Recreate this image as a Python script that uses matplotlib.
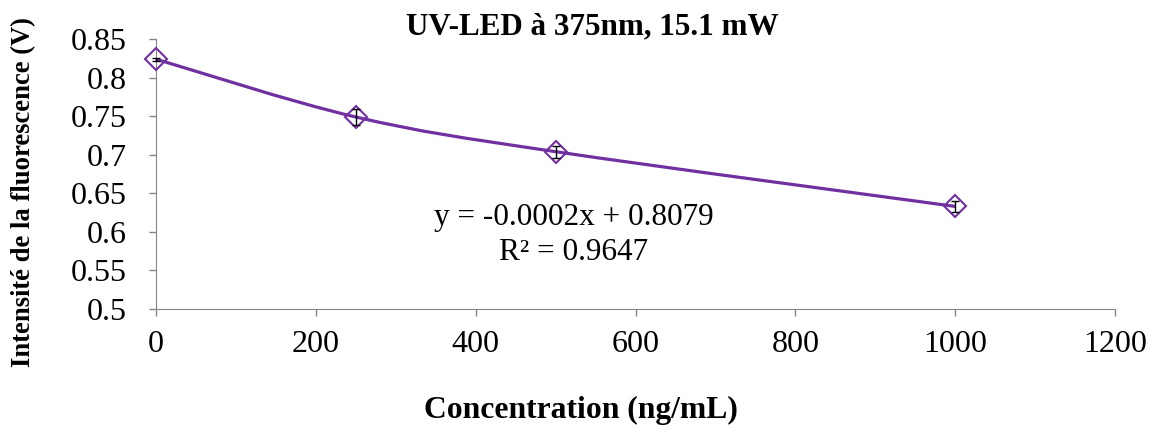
import numpy as np
import matplotlib
matplotlib.use("Agg")
import matplotlib.pyplot as plt
from matplotlib.path import Path
from matplotlib.patches import PathPatch

# data
conc = [0, 250, 500, 1000]
signal = [0.824, 0.749, 0.704, 0.633]
err = [0.002, 0.010, 0.008, 0.007]

purple = "#7030A0"
plt.rcParams["font.family"] = ["Liberation Serif", "DejaVu Serif"]

fig = plt.figure(figsize=(11.52, 4.25), dpi=100)
ax = fig.add_axes([0.1354, 0.273, 0.8326, 0.635])

# Excel-style smoothed line (Catmull-Rom -> cubic Bezier)
pts = np.column_stack([conc, signal]).astype(float)
ext = np.vstack([pts[0], pts, pts[-1]])
verts = [tuple(pts[0])]
codes = [Path.MOVETO]
for i in range(len(pts) - 1):
    p0, p1, p2, p3 = ext[i], ext[i + 1], ext[i + 2], ext[i + 3]
    c1 = p1 + (p2 - p0) / 6
    c2 = p2 - (p3 - p1) / 6
    verts += [tuple(c1), tuple(c2), tuple(p2)]
    codes += [Path.CURVE4] * 3
ax.add_patch(PathPatch(Path(verts, codes), fill=False, edgecolor=purple, lw=2.3,
                       zorder=2, clip_on=False))

ax.errorbar(conc, signal, yerr=err, fmt="none", ecolor="black", elinewidth=1,
            capsize=3, capthick=1, zorder=4, clip_on=False)
ax.plot(conc, signal, ls="none", marker="D", ms=11, mfc="none", mec=purple, mew=1.5,
        zorder=3, clip_on=False)

ax.set_xlim(0, 1200)
ax.set_ylim(0.5, 0.85)
ax.set_xticks(np.arange(0, 1201, 200))
ax.set_yticks(np.arange(0.5, 0.851, 0.05))
ax.set_yticklabels(["0.5", "0.55", "0.6", "0.65", "0.7", "0.75", "0.8", "0.85"])
ax.tick_params(labelsize=23, length=5, color="#868686", width=1)
ax.tick_params(axis="x", pad=10)
ax.tick_params(axis="y", pad=16)
for s in ["top", "right"]:
    ax.spines[s].set_visible(False)
for s in ["left", "bottom"]:
    ax.spines[s].set_color("#868686")

ax.text(523, 0.618, "y = -0.0002x + 0.8079", fontsize=22.5, ha="center", va="center")
ax.text(523, 0.573, "R² = 0.9647", fontsize=22.5, ha="center", va="center")

fig.text(592 / 1152, 1 - 27 / 425, "UV-LED à 375nm, 15.1 mW", fontsize=22.4,
         fontweight="bold", ha="center", va="center")
fig.text(581 / 1152, 1 - 410 / 425, "Concentration (ng/mL)", fontsize=22.8,
         fontweight="bold", ha="center", va="center")
fig.text(24 / 1152, 1 - 192 / 425, "Intensité de la fluorescence (V)", fontsize=19.2,
         fontweight="bold", ha="center", va="center", rotation=90)

fig.savefig("out.png", dpi=100)
